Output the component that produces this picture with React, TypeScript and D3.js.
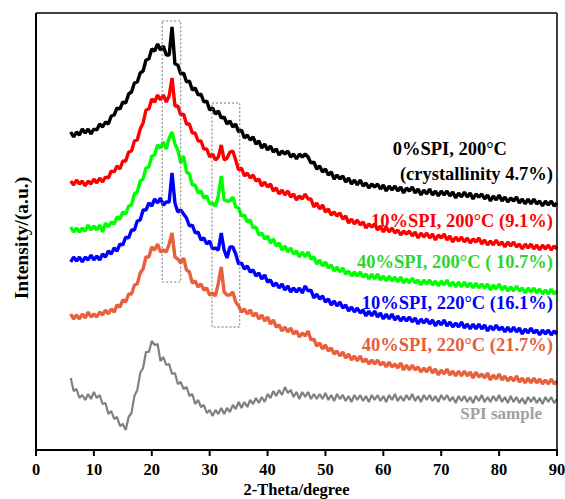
import * as d3 from 'd3';

// 2-theta sampling grid (degrees)
const twoTheta = [
  6, 6.5, 7, 7.5, 8, 8.5, 9, 9.5, 10, 10.5,
  11, 11.5, 12, 12.5, 13, 13.5, 14, 14.5, 15, 15.5,
  16, 16.5, 17, 17.5, 18, 18.5, 19, 19.5, 20, 20.5,
  21, 21.5, 22, 22.5, 23, 23.5, 24, 24.5, 25, 25.5,
  26, 26.5, 27, 27.5, 28, 28.5, 29, 29.5, 30, 30.5,
  31, 31.5, 32, 32.5, 33, 33.5, 34, 34.5, 35, 35.5,
  36, 36.5, 37, 37.5, 38, 38.5, 39, 39.5, 40, 40.5,
  41, 41.5, 42, 42.5, 43, 43.5, 44, 44.5, 45, 45.5,
  46, 46.5, 47, 47.5, 48, 48.5, 49, 49.5, 50, 50.5,
  51, 51.5, 52, 52.5, 53, 53.5, 54, 54.5, 55, 55.5,
  56, 56.5, 57, 57.5, 58, 58.5, 59, 59.5, 60, 60.5,
  61, 61.5, 62, 62.5, 63, 63.5, 64, 64.5, 65, 65.5,
  66, 66.5, 67, 67.5, 68, 68.5, 69, 69.5, 70, 70.5,
  71, 71.5, 72, 72.5, 73, 73.5, 74, 74.5, 75, 75.5,
  76, 76.5, 77, 77.5, 78, 78.5, 79, 79.5, 80, 80.5,
  81, 81.5, 82, 82.5, 83, 83.5, 84, 84.5, 85, 85.5,
  86, 86.5, 87, 87.5, 88, 88.5, 89, 89.5, 90,
];

// stacked intensities (a.u.)
const spi0_200 = [
  318, 313, 318, 315, 321, 317, 321, 316, 321, 320,
  326, 323, 328, 326, 334, 335, 342, 341, 348, 347,
  356, 358, 367, 368, 377, 379, 390, 391, 401, 399,
  406, 400, 404, 395, 395, 423, 386, 385, 376, 377,
  368, 369, 360, 362, 355, 356, 348, 349, 340, 342,
  336, 339, 332, 333, 326, 329, 323, 326, 318, 320,
  312, 315, 310, 313, 306, 309, 302, 306, 300, 304,
  298, 301, 295, 299, 296, 299, 293, 296, 291, 296,
  293, 296, 293, 287, 288, 281, 284, 278, 281, 275,
  278, 271, 275, 271, 274, 268, 272, 266, 270, 265,
  270, 264, 267, 262, 266, 263, 266, 261, 265, 259,
  264, 260, 264, 259, 263, 257, 262, 259, 263, 257,
  261, 255, 260, 256, 261, 255, 259, 254, 259, 255,
  259, 254, 258, 252, 257, 253, 258, 253, 257, 251,
  256, 253, 256, 251, 255, 249, 254, 250, 255, 249,
  253, 248, 252, 249, 253, 247, 251, 246, 251, 246,
  251, 246, 249, 244, 249, 245, 249, 244, 247,
];

const spi10_200 = [
  269, 265, 270, 266, 269, 264, 269, 266, 271, 267,
  272, 268, 273, 272, 279, 278, 284, 281, 289, 289,
  298, 299, 309, 310, 321, 327, 340, 341, 351, 348,
  355, 350, 355, 348, 354, 372, 344, 344, 335, 336,
  326, 326, 317, 317, 309, 309, 301, 301, 293, 296,
  290, 293, 305, 290, 292, 298, 299, 290, 280, 282,
  274, 277, 272, 275, 269, 271, 264, 268, 263, 266,
  259, 262, 256, 260, 255, 259, 253, 256, 250, 254,
  251, 256, 251, 251, 243, 247, 241, 245, 238, 241,
  235, 238, 234, 237, 231, 234, 227, 231, 226, 230,
  225, 228, 222, 226, 223, 226, 220, 224, 218, 223,
  218, 222, 217, 220, 215, 219, 216, 219, 214, 218,
  212, 217, 213, 217, 212, 216, 210, 215, 212, 216,
  210, 214, 208, 213, 209, 213, 208, 212, 207, 211,
  208, 212, 206, 210, 205, 209, 205, 210, 205, 208,
  203, 208, 204, 208, 203, 206, 201, 206, 202, 206,
  201, 205, 200, 205, 201, 205, 200, 204, 201,
];

const spi40_200 = [
  223, 218, 222, 218, 222, 219, 225, 220, 224, 220,
  225, 218, 227, 223, 228, 226, 233, 231, 238, 236,
  244, 245, 256, 258, 269, 271, 282, 283, 294, 295,
  305, 302, 308, 301, 312, 318, 306, 300, 287, 294,
  278, 276, 265, 265, 257, 259, 252, 254, 246, 247,
  244, 254, 274, 250, 249, 249, 253, 243, 242, 234,
  235, 228, 230, 222, 223, 215, 217, 211, 214, 207,
  211, 204, 207, 200, 204, 198, 202, 196, 199, 193,
  198, 193, 198, 191, 193, 186, 190, 184, 188, 182,
  185, 179, 183, 178, 182, 176, 179, 174, 178, 174,
  178, 173, 176, 171, 176, 171, 176, 170, 174, 169,
  174, 169, 173, 168, 173, 167, 171, 167, 172, 167,
  170, 165, 170, 166, 170, 165, 169, 164, 169, 165,
  170, 164, 168, 163, 168, 163, 168, 163, 167, 162,
  167, 162, 166, 162, 166, 160, 165, 161, 166, 160,
  164, 159, 163, 159, 164, 159, 162, 157, 162, 158,
  162, 157, 161, 156, 160, 156, 161, 156, 159,
];

const spi10_220 = [
  188, 193, 189, 193, 188, 193, 190, 195, 190, 194,
  190, 196, 193, 199, 196, 202, 199, 206, 205, 213,
  212, 220, 220, 229, 230, 240, 240, 247, 244, 251,
  247, 252, 245, 248, 248, 277, 247, 238, 240, 236,
  232, 224, 225, 217, 218, 210, 212, 206, 209, 201,
  202, 200, 217, 200, 192, 203, 203, 196, 186, 187,
  181, 184, 178, 180, 174, 177, 171, 175, 168, 170,
  164, 167, 162, 166, 160, 164, 158, 162, 158, 162,
  157, 164, 159, 160, 152, 156, 151, 154, 148, 151,
  145, 149, 144, 148, 142, 145, 139, 143, 138, 142,
  137, 140, 134, 139, 134, 139, 133, 137, 131, 136,
  131, 136, 130, 134, 129, 133, 129, 133, 128, 132,
  126, 131, 127, 131, 126, 130, 124, 129, 125, 130,
  124, 128, 123, 127, 123, 128, 122, 126, 121, 126,
  121, 126, 121, 125, 119, 124, 120, 125, 120, 123,
  118, 123, 118, 123, 118, 122, 116, 121, 117, 122,
  117, 120, 115, 120, 116, 120, 115, 119, 116,
];

const spi40_220 = [
  136, 131, 135, 131, 136, 132, 138, 133, 136, 133,
  138, 135, 140, 136, 141, 138, 145, 143, 150, 148,
  156, 156, 165, 166, 177, 181, 193, 193, 203, 200,
  206, 198, 200, 198, 206, 217, 193, 191, 187, 192,
  180, 178, 167, 169, 163, 166, 160, 162, 155, 157,
  154, 167, 183, 158, 155, 155, 158, 148, 144, 138,
  141, 136, 140, 134, 137, 131, 135, 129, 133, 126,
  130, 123, 125, 119, 123, 118, 122, 116, 119, 113,
  117, 114, 119, 110, 111, 104, 107, 101, 105, 99,
  102, 96, 99, 94, 98, 92, 96, 90, 94, 89,
  94, 88, 91, 86, 90, 86, 90, 85, 88, 83,
  88, 83, 86, 82, 87, 80, 85, 80, 85, 80,
  83, 78, 82, 78, 83, 77, 81, 75, 80, 76,
  81, 75, 79, 74, 79, 74, 79, 74, 78, 72,
  78, 73, 76, 72, 77, 70, 75, 71, 76, 70,
  74, 69, 73, 69, 74, 68, 72, 67, 72, 67,
  72, 67, 71, 66, 70, 66, 71, 66, 69,
];

const spiSample = [
  72, 59, 61, 52, 55, 50, 56, 51, 58, 52,
  55, 46, 47, 36, 39, 31, 33, 24, 26, 20,
  33, 37, 54, 60, 77, 82, 98, 98, 109, 105,
  106, 89, 93, 85, 86, 76, 77, 66, 68, 61,
  63, 54, 56, 46, 50, 43, 45, 37, 40, 34,
  40, 36, 42, 36, 42, 38, 45, 41, 48, 42,
  48, 43, 50, 46, 52, 47, 53, 48, 56, 52,
  59, 54, 60, 55, 63, 57, 60, 53, 58, 51,
  58, 53, 58, 51, 56, 51, 56, 51, 57, 50,
  55, 49, 56, 51, 55, 49, 54, 48, 55, 50,
  55, 49, 54, 48, 55, 50, 55, 49, 54, 48,
  55, 50, 56, 49, 54, 49, 55, 50, 56, 49,
  54, 48, 55, 50, 55, 49, 54, 48, 55, 50,
  55, 49, 53, 47, 54, 49, 54, 48, 53, 47,
  54, 49, 55, 48, 53, 48, 54, 49, 55, 48,
  53, 47, 54, 48, 53, 47, 52, 46, 53, 48,
  53, 47, 52, 46, 53, 48, 53, 47, 51,
];

const seriesLabels = [
  '0%SPI, 200°C',
  '10%SPI, 200°C (9.1%)',
  '40%SPI, 200°C ( 10.7%)',
  '10%SPI, 220°C (16.1%)',
  '40%SPI, 220°C (21.7%)',
  'SPI sample',
];
const crystallinityNote = '(crystallinity 4.7%)';

const xTicks = [0, 10, 20, 30, 40, 50, 60, 70, 80, 90];

// dashed boxes marking the crystalline reflections: [2θ from, 2θ to, I low, I high]
const peakBoxA = [21.8, 25.0, 168, 429];
const peakBoxB = [30.4, 35.2, 123, 347];

const W = 565;
const H = 499;
const margin = { top: 13, right: 8, bottom: 49, left: 36 };

export default function App() {
  const x = d3.scaleLinear().domain([0, 90]).range([margin.left, W - margin.right]);
  const y = d3.scaleLinear().domain([0, 437]).range([H - margin.bottom, margin.top]);

  const series = [
    { values: spi0_200, color: '#000000', label: seriesLabels[0], lx: 507, ly: 155, tc: '#000000' },
    { values: spi10_200, color: '#ff0000', label: seriesLabels[1], lx: 553, ly: 227, tc: '#ff0000' },
    { values: spi40_200, color: '#00ff00', label: seriesLabels[2], lx: 553, ly: 268, tc: '#2fd52f' },
    { values: spi10_220, color: '#0000ff', label: seriesLabels[3], lx: 553, ly: 309, tc: '#0000ff' },
    { values: spi40_220, color: '#e8603c', label: seriesLabels[4], lx: 553, ly: 351, tc: '#e2603c' },
    { values: spiSample, color: '#808080', label: seriesLabels[5], lx: 542, ly: 419, tc: '#a0a0a0' },
  ];

  const line = d3.line<number>()
    .x((_, i) => x(twoTheta[i]))
    .y(d => y(d));

  const font = '"Liberation Serif", "Times New Roman", serif';
  const x0 = margin.left;
  const x1 = W - margin.right;
  const yTop = margin.top;
  const yBot = H - margin.bottom;

  const box = (b: number[]) => (
    <rect
      x={x(b[0])}
      y={y(b[3])}
      width={x(b[1]) - x(b[0])}
      height={y(b[2]) - y(b[3])}
      fill="none"
      stroke="#777"
      strokeWidth={1}
      strokeDasharray="2,2"
    />
  );

  return (
    <svg width={W} height={H} style={{ position: 'absolute', left: 0, top: 0, background: '#fff' }} fontFamily={font}>
      <rect x={0} y={0} width={W} height={H} fill="#fff" />
      {series.map((s, i) => (
        <path key={i} d={line(s.values) || ''} fill="none" stroke={s.color} strokeWidth={i === 5 ? 2.2 : 3.4} strokeLinejoin="bevel" />
      ))}
      {box(peakBoxA)}
      {box(peakBoxB)}

      {/* frame */}
      <line x1={x0} x2={x1} y1={yTop} y2={yTop} stroke="#000" strokeWidth={1.5} />
      <line x1={x1} x2={x1} y1={yTop} y2={yBot} stroke="#000" strokeWidth={1.5} />
      <line x1={x0} x2={x0} y1={yTop} y2={yBot + 1} stroke="#000" strokeWidth={2} />
      <line x1={x0 - 1} x2={x1 + 1} y1={yBot} y2={yBot} stroke="#000" strokeWidth={2} />

      {xTicks.map(t => (
        <g key={t} transform={`translate(${x(t)},${yBot})`}>
          <line y1={0} y2={6} stroke="#000" strokeWidth={2} />
          <text y={25} textAnchor="middle" fontSize={16.5} fontWeight="bold">{t}</text>
        </g>
      ))}
      <text x={(x0 + x1) / 2} y={495} textAnchor="middle" fontSize={16.5} fontWeight="bold">2-Theta/degree</text>
      <text transform="translate(28,238) rotate(-90)" textAnchor="middle" fontSize={19.5} fontWeight="bold">Intensity/(a.u.)</text>

      {series.map((s, i) => (
        <text key={i} x={s.lx} y={s.ly} textAnchor="end" fontSize={i === 5 ? 17 : 18.5} fontWeight="bold" fill={s.tc}>{s.label}</text>
      ))}
      <text x={553} y={180} textAnchor="end" fontSize={18.5} fontWeight="bold">{crystallinityNote}</text>
    </svg>
  );
}
